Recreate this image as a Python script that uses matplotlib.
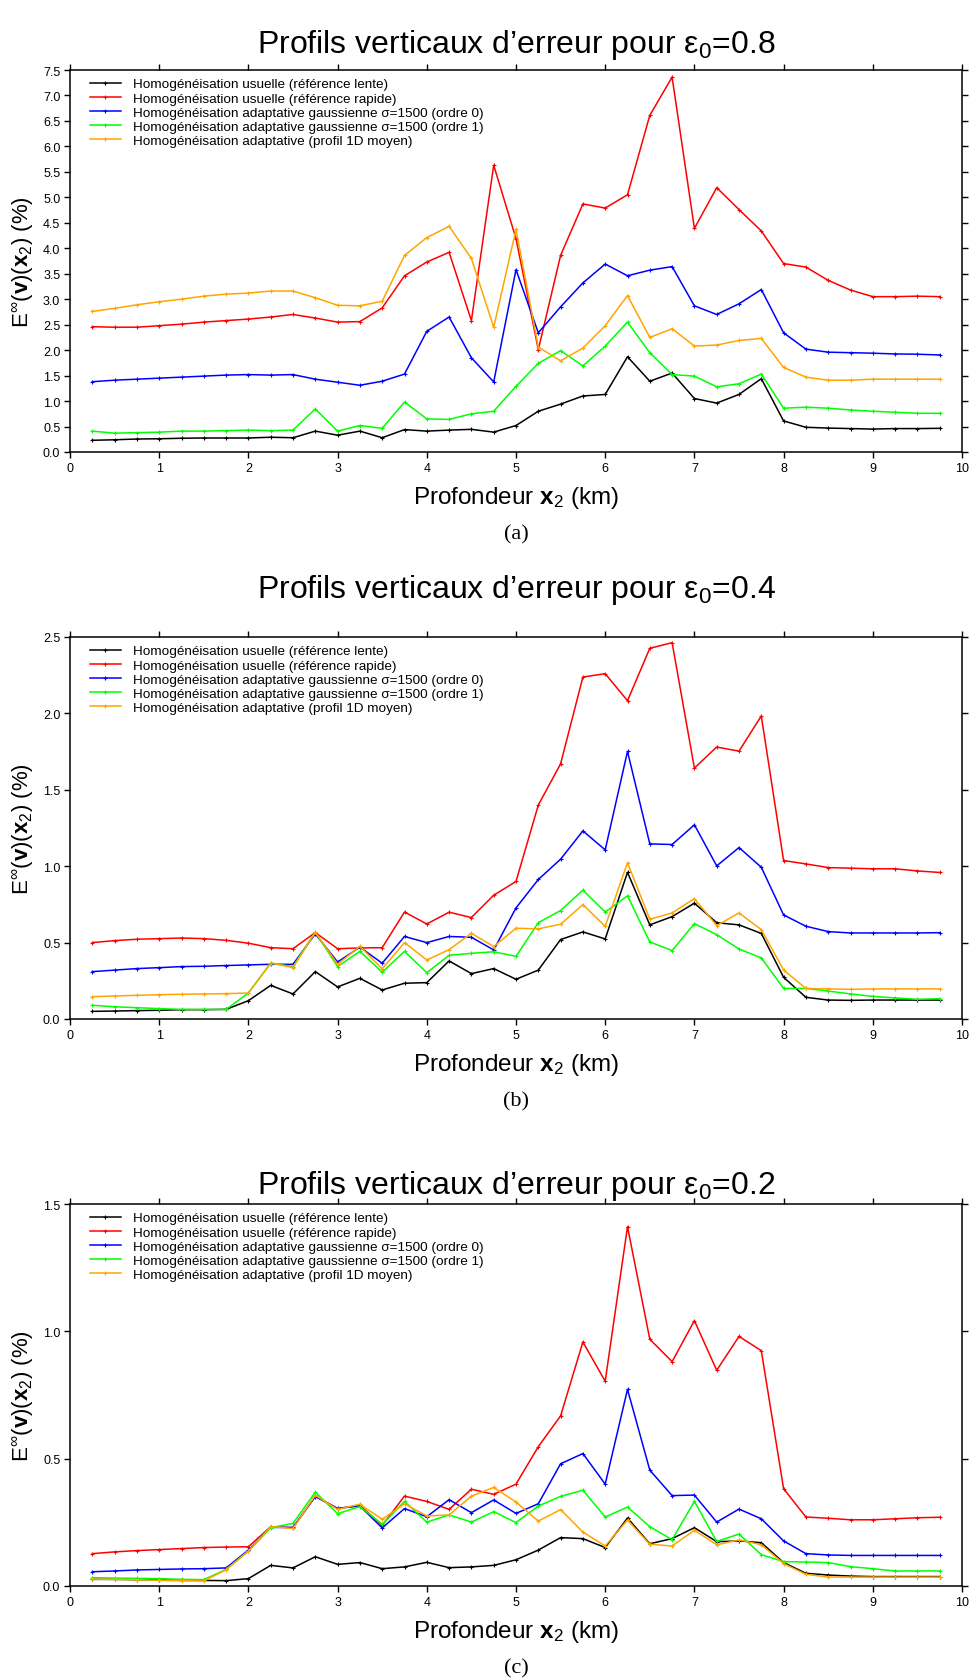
import matplotlib
matplotlib.use("Agg")
import matplotlib.pyplot as plt
import numpy as np

plt.rcParams['font.family'] = ['Liberation Sans', 'DejaVu Sans']
plt.rcParams['mathtext.fontset'] = 'custom'
plt.rcParams['mathtext.rm'] = 'Liberation Sans'
plt.rcParams['mathtext.bf'] = 'Liberation Sans:bold'
plt.rcParams['mathtext.it'] = 'Liberation Sans:italic'

# Depth sampling (km)
depth_km = np.arange(1, 40) * 0.25

series_labels = [
    "Homogénéisation usuelle (référence lente)",
    "Homogénéisation usuelle (référence rapide)",
    "Homogénéisation adaptative gaussienne σ=1500 (ordre 0)",
    "Homogénéisation adaptative gaussienne σ=1500 (ordre 1)",
    "Homogénéisation adaptative (profil 1D moyen)",
]
series_colors = ["#000000", "#ff0000", "#0000ff", "#00ff00", "#ffa500"]

# ---- eps0 = 0.8 ----
a_lente = [0.23, 0.24, 0.255, 0.26, 0.27, 0.275, 0.275, 0.275, 0.29, 0.28,
           0.41, 0.33, 0.41, 0.28, 0.44, 0.41, 0.43, 0.445, 0.39,
           0.52, 0.80, 0.94, 1.10, 1.13, 1.87, 1.39, 1.55, 1.05, 0.96,
           1.13, 1.44, 0.61, 0.485, 0.47, 0.46, 0.45, 0.46, 0.46, 0.465]
a_rapide = [2.46, 2.45, 2.45, 2.48, 2.51, 2.55, 2.58, 2.61, 2.65, 2.70,
            2.63, 2.55, 2.56, 2.83, 3.46, 3.73, 3.92, 2.58, 5.63,
            4.19, 2.01, 3.86, 4.87, 4.79, 5.05, 6.61, 7.36, 4.39, 5.19,
            4.76, 4.34, 3.70, 3.63, 3.37, 3.18, 3.05, 3.05, 3.06, 3.05]
a_ordre0 = [1.38, 1.41, 1.43, 1.45, 1.47, 1.49, 1.51, 1.52, 1.51, 1.52,
            1.43, 1.37, 1.31, 1.39, 1.53, 2.37, 2.65, 1.85, 1.375,
            3.58, 2.34, 2.85, 3.32, 3.69, 3.46, 3.57, 3.64, 2.87, 2.70,
            2.91, 3.19, 2.34, 2.02, 1.96, 1.95, 1.94, 1.925, 1.92, 1.905]
a_ordre1 = [0.41, 0.37, 0.38, 0.39, 0.41, 0.41, 0.42, 0.43, 0.42, 0.43,
            0.845, 0.41, 0.52, 0.465, 0.98, 0.65, 0.64, 0.75, 0.80,
            1.29, 1.74, 1.99, 1.69, 2.08, 2.55, 1.95, 1.52, 1.49, 1.28,
            1.34, 1.53, 0.86, 0.88, 0.86, 0.825, 0.80, 0.78, 0.76, 0.76]
a_profil1d = [2.76, 2.82, 2.89, 2.95, 3.00, 3.06, 3.10, 3.12, 3.16, 3.16,
              3.03, 2.88, 2.87, 2.96, 3.86, 4.21, 4.43, 3.80, 2.45,
              4.37, 2.06, 1.79, 2.04, 2.48, 3.07, 2.25, 2.42, 2.08, 2.10,
              2.19, 2.23, 1.66, 1.47, 1.41, 1.41, 1.43, 1.43, 1.43, 1.43]

# ---- eps0 = 0.4 ----
b_lente = [0.05, 0.052, 0.055, 0.057, 0.061, 0.061, 0.063, 0.12, 0.22, 0.164,
           0.31, 0.21, 0.266, 0.19, 0.234, 0.238, 0.38, 0.297, 0.33,
           0.26, 0.32, 0.52, 0.57, 0.524, 0.96, 0.616, 0.67, 0.758, 0.63,
           0.616, 0.56, 0.273, 0.142, 0.124, 0.122, 0.124, 0.124, 0.124, 0.124]
b_rapide = [0.50, 0.513, 0.522, 0.526, 0.53, 0.526, 0.515, 0.496, 0.467, 0.46,
            0.566, 0.46, 0.465, 0.467, 0.70, 0.622, 0.699, 0.664, 0.81,
            0.90, 1.40, 1.67, 2.238, 2.26, 2.083, 2.426, 2.463, 1.642, 1.78,
            1.753, 1.983, 1.037, 1.015, 0.991, 0.987, 0.983, 0.983, 0.969, 0.959]
b_ordre0 = [0.31, 0.32, 0.33, 0.336, 0.343, 0.345, 0.35, 0.354, 0.358, 0.358,
            0.557, 0.373, 0.47, 0.365, 0.54, 0.50, 0.54, 0.535, 0.452,
            0.727, 0.913, 1.046, 1.231, 1.107, 1.751, 1.146, 1.142, 1.271, 1.002,
            1.122, 0.993, 0.681, 0.607, 0.572, 0.563, 0.563, 0.563, 0.563, 0.565]
b_ordre1 = [0.09, 0.08, 0.074, 0.068, 0.063, 0.063, 0.063, 0.17, 0.365, 0.343,
            0.568, 0.343, 0.443, 0.306, 0.443, 0.303, 0.417, 0.43, 0.44,
            0.41, 0.63, 0.71, 0.843, 0.70, 0.806, 0.504, 0.448, 0.624, 0.552,
            0.458, 0.40, 0.20, 0.20, 0.183, 0.164, 0.148, 0.138, 0.129, 0.133]
b_profil1d = [0.146, 0.151, 0.155, 0.159, 0.162, 0.164, 0.166, 0.17, 0.367, 0.336,
              0.568, 0.358, 0.476, 0.328, 0.50, 0.386, 0.454, 0.561, 0.474,
              0.594, 0.59, 0.62, 0.749, 0.607, 1.022, 0.653, 0.694, 0.788, 0.611,
              0.694, 0.585, 0.321, 0.20, 0.197, 0.194, 0.197, 0.197, 0.197, 0.197]

# ---- eps0 = 0.2 ----
c_lente = [0.026, 0.026, 0.025, 0.024, 0.022, 0.022, 0.021, 0.029, 0.081, 0.071,
           0.115, 0.085, 0.092, 0.068, 0.075, 0.093, 0.072, 0.075, 0.081,
           0.103, 0.141, 0.19, 0.186, 0.151, 0.267, 0.166, 0.186, 0.229, 0.174,
           0.177, 0.17, 0.092, 0.05, 0.043, 0.039, 0.037, 0.037, 0.037, 0.037]
c_rapide = [0.127, 0.134, 0.139, 0.143, 0.147, 0.151, 0.153, 0.154, 0.233, 0.229,
            0.353, 0.304, 0.317, 0.238, 0.353, 0.332, 0.301, 0.38, 0.36,
            0.40, 0.547, 0.668, 0.958, 0.804, 1.411, 0.969, 0.881, 1.042, 0.847,
            0.98, 0.924, 0.382, 0.271, 0.266, 0.26, 0.26, 0.264, 0.268, 0.27]
c_ordre0 = [0.056, 0.059, 0.063, 0.065, 0.067, 0.068, 0.071, 0.141, 0.23, 0.23,
            0.351, 0.305, 0.314, 0.228, 0.304, 0.272, 0.339, 0.288, 0.338,
            0.285, 0.323, 0.48, 0.52, 0.40, 0.772, 0.455, 0.355, 0.357, 0.251,
            0.302, 0.264, 0.177, 0.127, 0.122, 0.12, 0.12, 0.12, 0.12, 0.12]
c_ordre1 = [0.033, 0.031, 0.03, 0.029, 0.026, 0.025, 0.065, 0.137, 0.229, 0.246,
            0.368, 0.284, 0.312, 0.242, 0.332, 0.251, 0.279, 0.251, 0.292,
            0.249, 0.314, 0.352, 0.376, 0.271, 0.31, 0.233, 0.182, 0.332, 0.175,
            0.204, 0.123, 0.096, 0.094, 0.092, 0.076, 0.068, 0.059, 0.059, 0.059]
c_profil1d = [0.027, 0.026, 0.025, 0.022, 0.021, 0.02, 0.064, 0.137, 0.233, 0.226,
              0.356, 0.301, 0.321, 0.262, 0.323, 0.275, 0.279, 0.353, 0.387,
              0.33, 0.255, 0.30, 0.212, 0.157, 0.259, 0.164, 0.157, 0.219, 0.162,
              0.181, 0.162, 0.088, 0.046, 0.035, 0.035, 0.035, 0.035, 0.035, 0.035]

panels = [
    ("0.8", 7.5, "(a)", [a_lente, a_rapide, a_ordre0, a_ordre1, a_profil1d]),
    ("0.4", 2.5, "(b)", [b_lente, b_rapide, b_ordre0, b_ordre1, b_profil1d]),
    ("0.2", 1.5, "(c)", [c_lente, c_rapide, c_ordre0, c_ordre1, c_profil1d]),
]

W, H = 971, 1681
fig = plt.figure(figsize=(W / 100, H / 100), dpi=100)

AX_LEFT, AX_RIGHT = 70, 962
AX_H = 382
STEP = 567
TITLE_Y = [45, 590, 1186]
xc = (AX_LEFT + AX_RIGHT) / 2


def fy(py):
    return 1 - py / H


for i, (eps, ymax, caption, data) in enumerate(panels):
    top = 71 + i * STEP
    bottom = top + AX_H
    ax = fig.add_axes([AX_LEFT / W, fy(bottom), (AX_RIGHT - AX_LEFT) / W, AX_H / H])
    for vals, col, lab in zip(data, series_colors, series_labels):
        ax.plot(depth_km, vals, color=col, lw=1.1, marker='+', ms=3, mew=0.8,
                label=lab)
    ax.set_xlim(0, 10)
    ax.set_ylim(0, ymax)
    ax.set_xticks(range(11))
    ax.set_yticks(np.arange(0, ymax + 1e-9, 0.5))
    ax.yaxis.set_major_formatter('{x:.1f}')
    ax.tick_params(direction='out', top=True, right=True, length=4, width=1,
                   labelsize=9, pad=3)
    for sp in ax.spines.values():
        sp.set_linewidth(1.1)
    ax.legend(loc='upper left', bbox_to_anchor=(20 / 892, 1 - 8 / AX_H),
              frameon=False, fontsize=9.7, borderaxespad=0, borderpad=0,
              handlelength=2.3, handletextpad=0.9, labelspacing=0.13)

    fig.text(xc / W, fy(TITLE_Y[i]),
             r"Profils verticaux d’erreur pour $\mathrm{\varepsilon}_0$=" + eps,
             ha='center', va='center', fontsize=23)
    fig.text(xc / W, fy(bottom + 45), r"Profondeur $\mathbf{x}_2$ (km)",
             ha='center', va='center', fontsize=17.5)
    fig.text(xc / W, fy(bottom + 82), caption, ha='center', va='center',
             fontsize=16, family='Liberation Serif')
    fig.text(23 / W, fy((top + bottom) / 2),
             r"$\mathrm{E}^{\infty}(\mathbf{v})(\mathbf{x}_2)$ (%)",
             rotation=90, ha='center', va='center', fontsize=16)

fig.savefig("out.png", dpi=100)
